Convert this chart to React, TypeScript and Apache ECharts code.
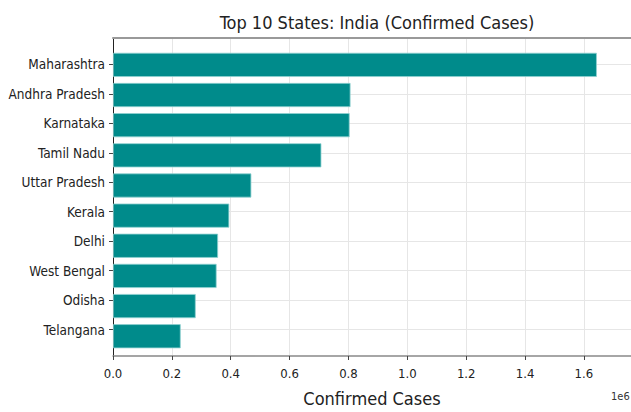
import React, { useEffect, useRef } from "react";
import * as echarts from "echarts";

const states = [
  "Maharashtra",
  "Andhra Pradesh",
  "Karnataka",
  "Tamil Nadu",
  "Uttar Pradesh",
  "Kerala",
  "Delhi",
  "West Bengal",
  "Odisha",
  "Telangana",
];
const confirmed = [1644000, 807000, 804000, 708000, 470000, 395000, 357000, 352000, 281000, 230000];
const xTicks = [0, 200000, 400000, 600000, 800000, 1000000, 1200000, 1400000, 1600000];
const stateIndex = states.map((_, i) => i);

const FONT = "DejaVu Sans Condensed";
const X_MAX = 1760000;

export default function App() {
  const ref = useRef<HTMLDivElement>(null);
  useEffect(() => {
    document.body.style.margin = "0";
    document.body.style.overflow = "hidden";
    const chart = echarts.init(ref.current!, null, { renderer: "svg" });
    chart.setOption({
      animation: false,
      backgroundColor: "#ffffff",
      textStyle: { fontFamily: FONT },
      title: {
        text: "Top 10 States: India (Confirmed Cases)",
        left: 372,
        textAlign: "center",
        top: 8,
        textStyle: { fontFamily: FONT, fontSize: 18, fontWeight: "normal", color: "#222" },
      },
      graphic: [
        {
          type: "text",
          left: 611,
          top: 391,
          style: { text: "1e6", font: `11px '${FONT}'`, fill: "#333" },
        },
      ],
      grid: [
        { left: 113, top: 38, width: 520, height: 325, containLabel: false },
        { left: 113, top: 49.8, width: 520, height: 301.5, containLabel: false },
      ],
      xAxis: [
        {
          type: "value",
          gridIndex: 0,
          min: 0,
          max: X_MAX,
          interval: 200000,
          position: "bottom",
          name: "Confirmed Cases",
          nameLocation: "middle",
          nameGap: 33,
          nameTextStyle: { fontFamily: FONT, fontSize: 18, color: "#222" },
          axisLine: { show: true, onZero: false, lineStyle: { color: "#888", width: 1.5 } },
          axisTick: { show: true, length: 4, inside: false, lineStyle: { color: "#444" } },
          axisLabel: {
            showMaxLabel: false,
            fontFamily: FONT,
            fontSize: 13,
            color: "#222",
            margin: 11,
            formatter: (v: number) => (xTicks.includes(v) ? (v / 1e6).toFixed(1) : ""),
          },
          splitLine: { show: true, lineStyle: { color: "#e6e6e6", width: 1 } },
        },
        {
          type: "value",
          gridIndex: 0,
          min: 0,
          max: X_MAX,
          position: "top",
          axisLine: { show: true, onZero: false, lineStyle: { color: "#999", width: 2 } },
          axisTick: { show: false },
          axisLabel: { show: false },
          splitLine: { show: false },
        },
        {
          type: "value",
          gridIndex: 1,
          min: 0,
          max: X_MAX,
          show: false,
        },
      ],
      yAxis: [
        {
          type: "value",
          gridIndex: 0,
          inverse: true,
          min: -0.89,
          max: 9.89,
          axisLine: { show: true, onZero: false, lineStyle: { color: "#222", width: 1 } },
          axisTick: { show: true, length: 4, customValues: stateIndex, lineStyle: { color: "#444" } },
          axisLabel: {
            customValues: stateIndex,
            fontFamily: FONT,
            fontSize: 13.5,
            color: "#222",
            margin: 8,
            formatter: (v: number) => states[Math.round(v)] ?? "",
          },
          splitLine: { show: true, lineStyle: { color: "#e6e6e6", width: 1 } },
        },
        {
          type: "category",
          gridIndex: 1,
          inverse: true,
          data: states,
          show: false,
        },
      ],
      series: [
        {
          type: "bar",
          xAxisIndex: 2,
          yAxisIndex: 1,
          data: confirmed,
          barCategoryGap: "20%",
          itemStyle: { color: "#008B8B", borderColor: "#8fd0d0", borderWidth: 0.8 },
        },
      ],
    });
    return () => chart.dispose();
  }, []);
  return <div ref={ref} style={{ width: 631, height: 412 }} />;
}
